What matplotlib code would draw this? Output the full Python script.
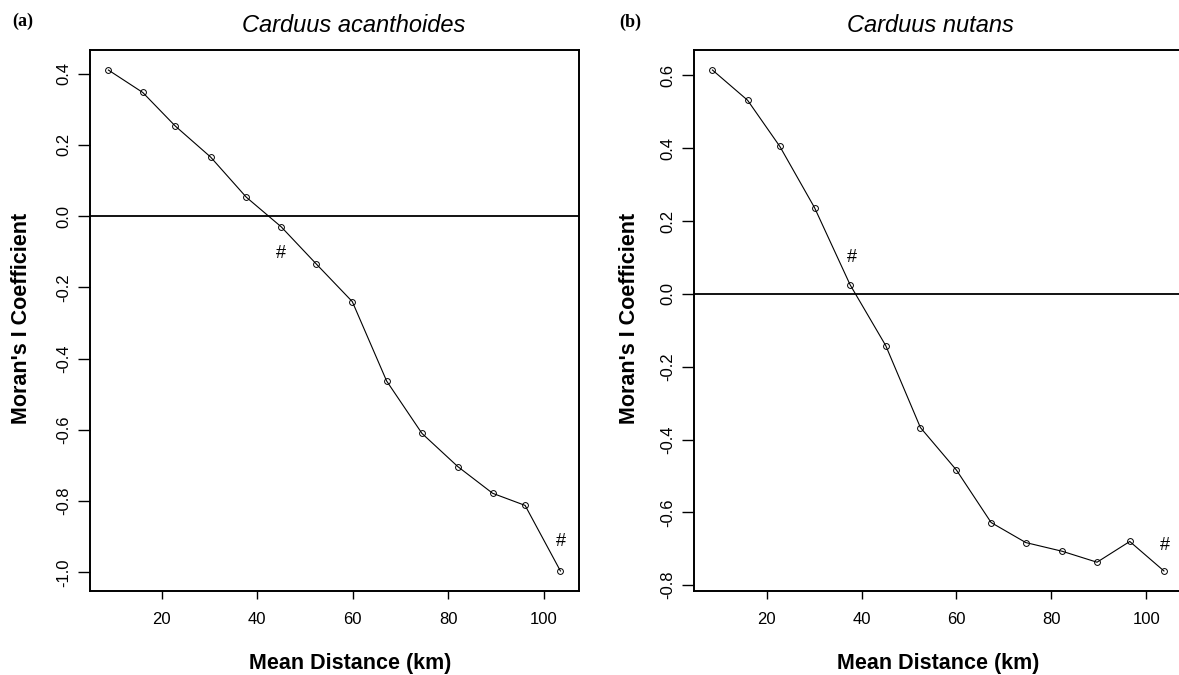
import matplotlib
matplotlib.use('Agg')
import matplotlib.pyplot as plt

# Moran's I correlograms
dist_a = [8.8, 16.0, 22.8, 30.2, 37.7, 45.0, 52.4, 59.9, 67.1, 74.5, 82.0, 89.3, 96.1, 103.5]
moran_a = [0.410, 0.347, 0.253, 0.166, 0.053, -0.030, -0.135, -0.240,
           -0.463, -0.610, -0.703, -0.778, -0.812, -0.996]
dist_b = [8.6, 16.0, 22.8, 30.1, 37.6, 45.1, 52.4, 60.0, 67.3, 74.6, 82.3, 89.6, 96.5, 103.7]
moran_b = [0.615, 0.532, 0.405, 0.237, 0.025, -0.142, -0.367, -0.484,
           -0.628, -0.683, -0.707, -0.737, -0.680, -0.761]

# significance marks (#)
mark_a_x = [44.9, 103.7]
mark_a_y = [-0.106, -0.912]
mark_b_x = [38.0, 103.9]
mark_b_y = [0.101, -0.692]

titles = ['Carduus acanthoides', 'Carduus nutans']
panel_tags = ['(a)', '(b)']
yticks_a = [-1.0, -0.8, -0.6, -0.4, -0.2, 0.0, 0.2, 0.4]
yticks_b = [-0.8, -0.6, -0.4, -0.2, 0.0, 0.2, 0.4, 0.6]
xticks = [20, 40, 60, 80, 100]

W, H = 1179, 675
plt.rcParams['font.family'] = ['Liberation Sans', 'DejaVu Sans']
fig = plt.figure(figsize=(W / 100, H / 100), dpi=100)


def px_axes(left, top, right, bottom):
    return fig.add_axes([left / W, 1 - bottom / H, (right - left) / W, (bottom - top) / H])


def r_range(v):
    lo, hi = min(v), max(v)
    pad = (hi - lo) * 0.04
    return lo - pad, hi + pad


ax_a = px_axes(90.3, 50, 578.5, 591)
ax_b = px_axes(694.4, 50, 1182, 591)

panels = [
    (ax_a, dist_a, moran_a, mark_a_x, mark_a_y, yticks_a),
    (ax_b, dist_b, moran_b, mark_b_x, mark_b_y, yticks_b),
]

for ax, x, y, mx, my, yt in panels:
    ax.plot(x, y, color='black', lw=0.8, marker='o', ms=4.2, mfc='none', mew=0.7)
    ax.axhline(0, color='black', lw=1.3)
    for xx, yy in zip(mx, my):
        ax.text(xx, yy, '#', ha='center', va='center', fontsize=13)
    ax.set_xlim(*r_range(x))
    ax.set_ylim(*r_range(y))
    ax.set_xticks(xticks)
    ax.set_yticks(yt)
    ax.set_yticklabels([f'{v:.1f}' for v in yt], rotation=90, va='center')
    ax.tick_params(axis='x', direction='out', length=6, width=1, pad=9, labelsize=12)
    ax.tick_params(axis='y', direction='out', length=8.5, width=1, pad=5, labelsize=12)
    for s in ax.spines.values():
        s.set_linewidth(1.4)

# panel titles, tags and axis labels
fig.text(354 / W, 1 - 31.5 / H, titles[0], ha='center', va='baseline',
         fontsize=17, style='italic')
fig.text(930 / W, 1 - 31.5 / H, titles[1], ha='center', va='baseline',
         fontsize=17, style='italic')
fig.text(12.7 / W, 1 - 21 / H, panel_tags[0], ha='left', va='center',
         fontsize=13, fontweight='bold', family='Liberation Serif')
fig.text(619 / W, 1 - 22 / H, panel_tags[1], ha='left', va='center',
         fontsize=13, fontweight='bold', family='Liberation Serif')

fig.text(350 / W, 1 - 663 / H, 'Mean Distance (km)', ha='center', va='center',
         fontsize=15.5, fontweight='bold')
fig.text(938 / W, 1 - 663 / H, 'Mean Distance (km)', ha='center', va='center',
         fontsize=15.5, fontweight='bold')
fig.text(22 / W, 1 - 318 / H, "Moran's I Coefficient", ha='center', va='center',
         rotation=90, fontsize=15.5, fontweight='bold')
fig.text(629 / W, 1 - 318 / H, "Moran's I Coefficient", ha='center', va='center',
         rotation=90, fontsize=15.5, fontweight='bold')

fig.savefig('out.png', dpi=100)
